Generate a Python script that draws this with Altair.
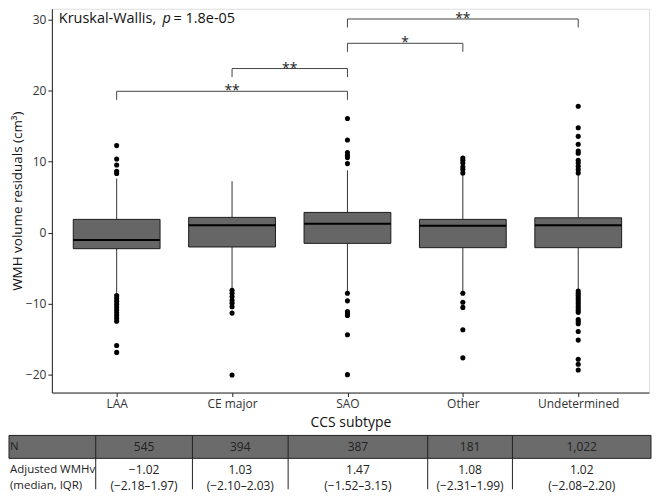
import json
import altair as alt
import pandas as pd

# ---------------- data ----------------
CATEGORIES = ["LAA", "CE major", "SAO", "Other", "Undetermined"]
Q1 = [-2.24, -2.00, -1.49, -2.10, -2.10]
MEDIAN = [-1.02, 1.04, 1.26, 0.98, 1.04]
Q3 = [1.88, 2.16, 2.86, 1.88, 2.10]
WHISKER_LO = [-8.45, -8.04, -8.27, -8.27, -8.04]
WHISKER_HI = [7.63, 7.25, 8.79, 8.20, 8.23]

OUT_LAA = [12.26, 10.38, 9.54, 8.65, 8.33, -8.85, -9.25, -9.65, -10.05, -10.45,
           -10.85, -11.25, -11.65, -12.05, -12.45, -15.85, -16.83]
OUT_CE = [-8.1, -8.5, -9.0, -9.5, -9.9, -10.4, -11.3, -20.0]
OUT_SAO = [16.08, 13.05, 11.3, 10.9, 10.57, 9.73, -8.5, -9.58, -11.08, -11.4,
           -11.63, -14.35, -19.96]
OUT_OTHER = [10.52, 10.2, 9.82, 9.26, 8.9, 8.4, -8.5, -9.77, -10.5, -13.65, -17.6]
OUT_UND = [17.8, 14.78, 13.56, 12.44, 11.5, 11.2, 10.2, 9.82, 9.36, 8.9, 8.42,
           -8.2, -8.5, -8.8, -9.1, -9.4, -9.7, -10.0, -10.3, -10.6, -10.9, -11.2,
           -12.2, -12.5, -12.8, -13.9, -15.1, -17.8, -18.5, -19.3]
OUTLIERS = [OUT_LAA, OUT_CE, OUT_SAO, OUT_OTHER, OUT_UND]

BRACKET_G1 = ["LAA", "CE major", "SAO", "SAO"]
BRACKET_G2 = ["SAO", "SAO", "Other", "Undetermined"]
BRACKET_Y = [19.9, 23.1, 26.65, 30.07]
BRACKET_LABEL = ["**", "**", "*", "**"]

KW_TEXT = ["Kruskal-Wallis,", "p", "= 1.8e-05"]
KW_Y = 30

N_VALUES = [545, 394, 387, 181, 1022]
ADJ_MEDIAN = [-1.02, 1.03, 1.47, 1.08, 1.02]
ADJ_Q1 = [-2.18, -2.10, -1.52, -2.31, -2.08]
ADJ_Q3 = [1.97, 2.03, 3.15, 1.99, 2.20]
ROW_LABELS = ["N", "Adjusted WMHv", "(median, IQR)"]

# ---------------- layout constants ----------------
FONT = "Open Sans"
VIEW_LEFT = 51          # page x of the plot area's left edge
VIEW_W, VIEW_H = 599, 385
BOX_HALF = 0.376
TIP = 1.2
TABLE_EDGES = [8, 95, 192, 288, 428, 513, 652]   # page x of table column rules
ROW1_TOP, ROW1_BOT, TABLE_BOT = 436, 459, 490
ROW_TEXT_Y = [447.5, 471, 487]

# ---------------- frames ----------------
pos = {c: i for i, c in enumerate(CATEGORIES)}
boxes = pd.DataFrame({
    "cat": CATEGORIES,
    "pos": list(range(len(CATEGORIES))),
    "q1": Q1, "med": MEDIAN, "q3": Q3, "lo": WHISKER_LO, "hi": WHISKER_HI,
})
boxes["left"] = boxes["pos"] - BOX_HALF
boxes["right"] = boxes["pos"] + BOX_HALF

out_rows = []
for c, vals in zip(CATEGORIES, OUTLIERS):
    for v in vals:
        out_rows.append({"pos": pos[c], "value": v})
outliers = pd.DataFrame(out_rows)

br = pd.DataFrame({
    "x1": [pos[g] for g in BRACKET_G1],
    "x2": [pos[g] for g in BRACKET_G2],
    "y": BRACKET_Y,
    "label": BRACKET_LABEL,
})
br["xm"] = (br["x1"] + br["x2"]) / 2
br["tip"] = br["y"] - TIP

labels_js = json.dumps(CATEGORIES)
# category 0 sits at page x 116, spacing 115.75 px
x_lo = -(116 - VIEW_LEFT) / 115.75
xscale = alt.Scale(domain=[x_lo, x_lo + VIEW_W / 115.75], nice=False, zero=False)
yscale = alt.Scale(domain=[-22.48, 31.51], nice=False, zero=False)
xaxis = alt.Axis(values=list(range(len(CATEGORIES))), labelExpr=f"{labels_js}[datum.value]",
                 title="CCS subtype", grid=False, tickSize=4, labelPadding=2,
                 titlePadding=6, labelFontSize=12, titleFontSize=14,
                 titleFontWeight="normal", labelColor="#333333", titleColor="#111111",
                 domainColor="#222222", tickColor="#222222", labelFlush=False)
yaxis = alt.Axis(values=[-20, -10, 0, 10, 20, 30], title="WMH volume residuals (cm³)",
                 grid=False, tickSize=4, labelPadding=2, titlePadding=1,
                 labelFontSize=12, titleFontSize=13.5, titleFontWeight="normal",
                 labelColor="#333333", titleColor="#111111",
                 domainColor="#222222", tickColor="#222222")

base = alt.Chart(boxes)
wh_hi = base.mark_rule(color="#333333", strokeWidth=1).encode(
    x=alt.X("pos:Q", scale=xscale, axis=xaxis),
    y=alt.Y("q3:Q", scale=yscale, axis=yaxis), y2="hi:Q")
wh_lo = base.mark_rule(color="#333333", strokeWidth=1).encode(
    x="pos:Q", y="lo:Q", y2="q1:Q")
box = base.mark_rect(fill="#666666", stroke="#1a1a1a", strokeWidth=1).encode(
    x="left:Q", x2="right:Q", y="q1:Q", y2="q3:Q")
med = base.mark_rule(color="#000000", strokeWidth=2).encode(
    x="left:Q", x2="right:Q", y="med:Q")
pts = alt.Chart(outliers).mark_circle(color="#000000", size=26, opacity=1).encode(
    x="pos:Q", y="value:Q")

bb = alt.Chart(br)
br_h = bb.mark_rule(color="#444444", strokeWidth=1).encode(x="x1:Q", x2="x2:Q", y="y:Q")
br_l = bb.mark_rule(color="#444444", strokeWidth=1).encode(x="x1:Q", y="tip:Q", y2="y:Q")
br_r = bb.mark_rule(color="#444444", strokeWidth=1).encode(x="x2:Q", y="tip:Q", y2="y:Q")
br_t = bb.mark_text(font=FONT, fontSize=14, color="#222222", baseline="alphabetic",
                    align="center", dy=4).encode(x="xm:Q", y="y:Q", text="label:N")

def kw(text, xpix, style="normal"):
    return alt.Chart(pd.DataFrame({"t": [text]})).mark_text(
        font=FONT, fontSize=14.5, align="left", baseline="middle", fontStyle=style,
        color="#111111").encode(x=alt.value(xpix), y=alt.Y(datum=KW_Y), text="t:N")

kw1 = kw(KW_TEXT[0], 58 - VIEW_LEFT)
kw2 = kw(KW_TEXT[1], 162 - VIEW_LEFT, "italic")
kw3 = kw(KW_TEXT[2], 173 - VIEW_LEFT)

plot = alt.layer(wh_hi, wh_lo, box, med, pts, br_h, br_l, br_r, br_t, kw1, kw2, kw3)

# ---------------- table (drawn below the plot area) ----------------
def fmt(v):
    return f"{v:.2f}".replace("-", "\u2212")

centers = [(TABLE_EDGES[i + 1] + TABLE_EDGES[i + 2]) / 2 for i in range(len(CATEGORIES))]
cells = pd.DataFrame({
    "x": centers * 3,
    "y": [ROW_TEXT_Y[0]] * 5 + [ROW_TEXT_Y[1]] * 5 + [ROW_TEXT_Y[2]] * 5,
    "t": [f"{n:,}" for n in N_VALUES]
         + [fmt(m) for m in ADJ_MEDIAN]
         + [f"({fmt(a)}\u2013{fmt(b)})" for a, b in zip(ADJ_Q1, ADJ_Q3)],
})
row_labels = pd.DataFrame({"x": [TABLE_EDGES[0]] * 3, "y": ROW_TEXT_Y, "t": ROW_LABELS})
band = pd.DataFrame({"x": [TABLE_EDGES[0]], "x2": [TABLE_EDGES[-1]],
                     "y": [ROW1_TOP], "y2": [ROW1_BOT]})
vlines = pd.DataFrame({"x": TABLE_EDGES[1:-1], "y": [ROW1_TOP] * 5, "y2": [TABLE_BOT] * 5})

# table scales map page pixels 1:1 onto the plot area
tx = alt.Scale(domain=[VIEW_LEFT, VIEW_LEFT + VIEW_W], nice=False, zero=False)
ty = alt.Scale(domain=[8, 8 + VIEW_H], reverse=True, nice=False, zero=False)

t_band = alt.Chart(band).mark_rect(fill="#6b6b6b", stroke="#222222", strokeWidth=1).encode(
    x=alt.X("x:Q", scale=tx, axis=None), x2="x2:Q",
    y=alt.Y("y:Q", scale=ty, axis=None), y2="y2:Q")
t_lines = alt.Chart(vlines).mark_rule(color="#222222", strokeWidth=1).encode(
    x="x:Q", y="y:Q", y2="y2:Q")
t_cells = alt.Chart(cells).mark_text(font=FONT, fontSize=12, color="#222222",
                                     align="center", baseline="middle").encode(
    x="x:Q", y="y:Q", text="t:N")
t_rows = alt.Chart(row_labels).mark_text(font=FONT, fontSize=11.5, color="#222222",
                                         align="left", baseline="middle", dx=1).encode(
    x="x:Q", y="y:Q", text="t:N")
table = alt.layer(t_band, t_lines, t_cells, t_rows)

chart = alt.layer(plot, table).resolve_scale(x="independent", y="independent").properties(
    width=VIEW_W, height=VIEW_H, padding=0).configure_view(
    strokeWidth=0).configure(font=FONT)

chart.save("out.html", embed_options={"renderer": "svg", "actions": False})
